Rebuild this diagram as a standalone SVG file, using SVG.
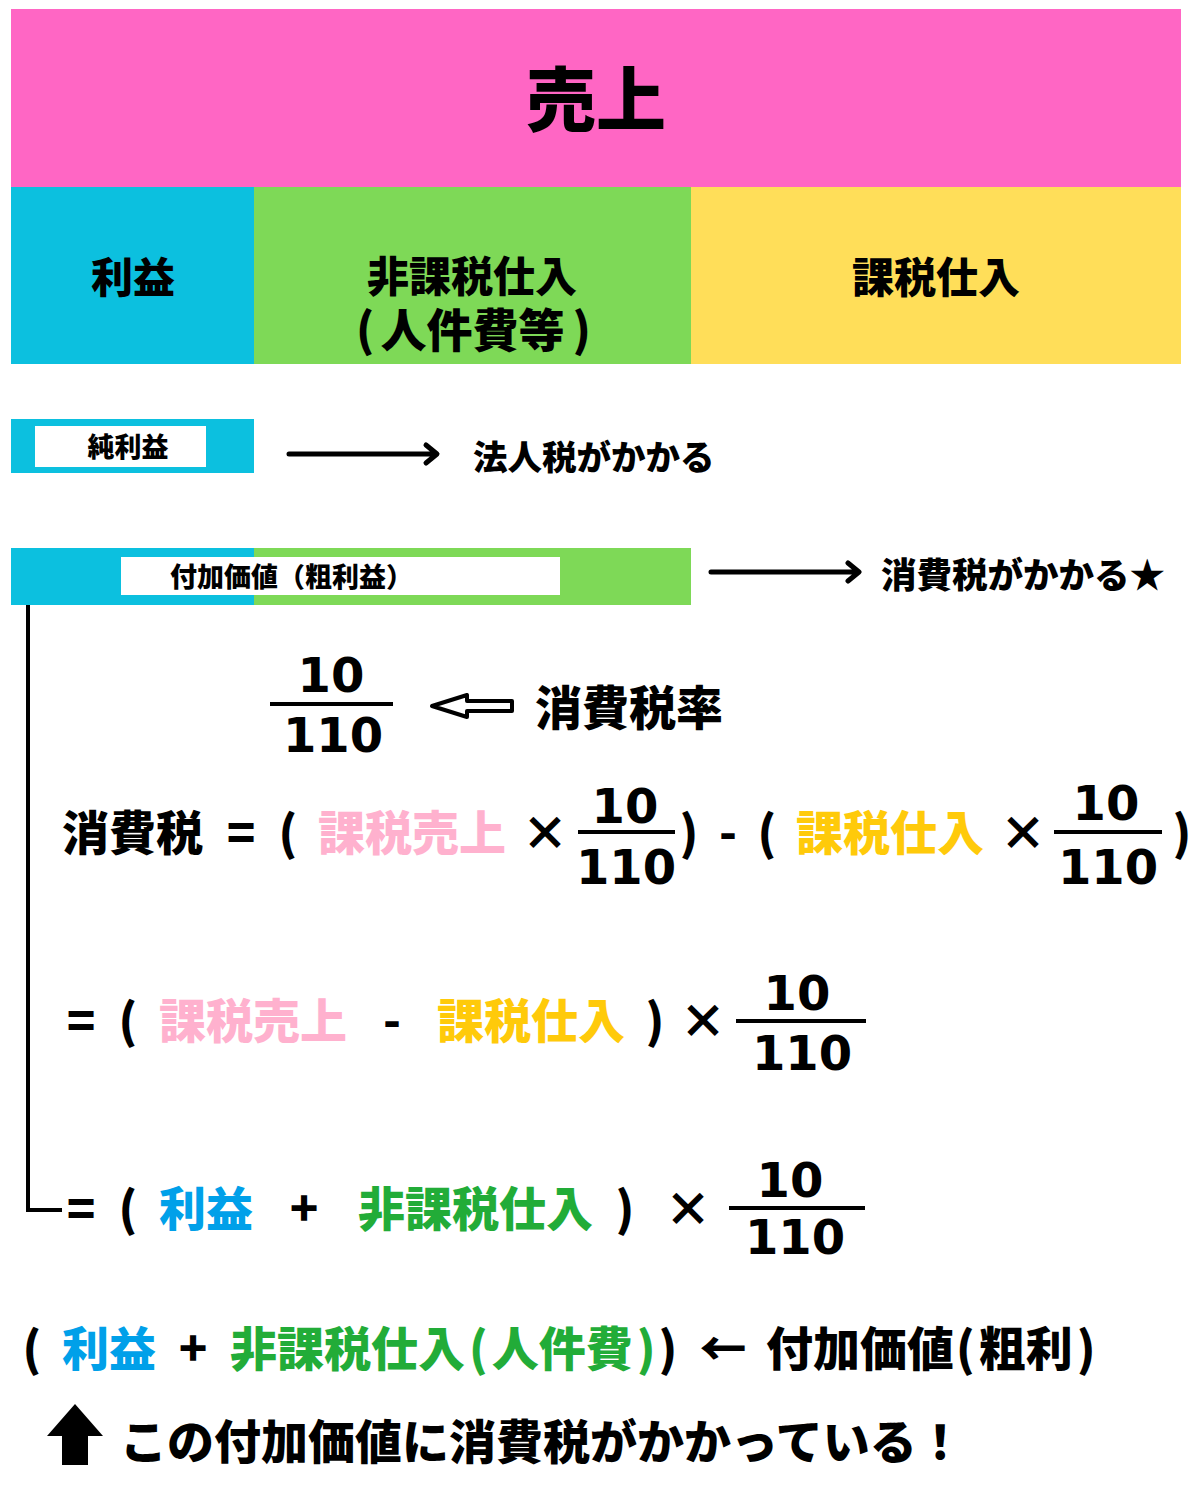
<svg xmlns="http://www.w3.org/2000/svg" width="1196" height="1510" viewBox="0 0 1196 1510">
<style>
text{font-family:"Noto Sans CJK JP","Noto Sans CJK SC",sans-serif;font-weight:900;fill:#000}
.num{font-family:"DejaVu Sans",sans-serif;font-weight:bold;font-size:48px;text-anchor:middle}
.f{font-size:47px}
.m{text-anchor:middle}
.pk{fill:#FFB1CE}
.gd{fill:#FFCA0A}
.bl{fill:#00A0E9}
.gr{fill:#22AC38}
.ln{stroke:#000;stroke-width:5;fill:none;stroke-linecap:round;stroke-linejoin:round}
</style>
<rect width="1196" height="1510" fill="#fff"/>
<g id="uriage">
<rect x="11" y="9" width="1170" height="178" fill="#FF66C4"/>
<text x="596" y="126" font-size="70" class="m">売上</text>
</g>
<g id="rieki">
<rect x="11" y="187" width="243" height="177" fill="#0CC0DF"/>
<text x="133" y="293" font-size="42" class="m">利益</text>
</g>
<g id="hikazei">
<rect x="254" y="187" width="437" height="177" fill="#7ED957"/>
<text x="472" y="292" font-size="42" class="m">非課税仕入</text>
<text x="356" y="347" font-size="46">(<tspan dx="6">人件費等</tspan><tspan dx="8">)</tspan></text>
</g>
<g id="kazei">
<rect x="691" y="187" width="490" height="177" fill="#FFDE59"/>
<text x="936" y="293" font-size="42" class="m">課税仕入</text>
</g>
<g id="junrieki">
<rect x="11" y="419" width="243" height="54" fill="#0CC0DF"/>
<rect x="35" y="426" width="171" height="41" fill="#fff"/>
<text x="128" y="457" font-size="27" class="m">純利益</text>
</g>
<g id="houjinzei">
<text x="473" y="470" font-size="34.5">法人税がかかる</text>
</g>
<g id="fukakachi">
<rect x="11" y="548" width="243" height="57" fill="#0CC0DF"/>
<rect x="254" y="548" width="437" height="57" fill="#7ED957"/>
<rect x="121" y="557" width="439" height="38" fill="#fff"/>
<text x="170" y="587" font-size="27">付加価値（粗利益）</text>
</g>
<g id="shouhizei">
<text x="881" y="588" font-size="35.5">消費税がかかる★</text>
</g>
<g id="connectors">
<path class="ln" d="M289,454 H436 M426,445 L437,454 L426,463"/>
<path class="ln" d="M711,572 H858 M848,563 L859,572 L848,581"/>
<path d="M28,605 V1210 H62" stroke="#000" stroke-width="4" fill="none"/>
<polygon points="432,706 467,695 467,701 512,701 512,711 467,711 467,717" fill="#fff" stroke="#000" stroke-width="4" stroke-linejoin="round"/>
<polygon points="75,1404 47,1436 62,1436 62,1465 88,1465 88,1436 103,1436" fill="#000"/>
</g>
<g id="rate">
<text x="331" y="692" class="num">10</text>
<line x1="270" y1="704" x2="393" y2="704" stroke="#000" stroke-width="4"/>
<text x="333" y="752" class="num">110</text>
<text x="535" y="725" class="f">消費税率</text>
</g>
<g id="formula1">
<text x="62" y="850" class="f">消費税</text>
<text x="241" y="850" class="f m">=</text>
<text x="288" y="850" class="f m">(</text>
<text x="318" y="850" class="f pk">課税売上</text>
<text x="545" y="850" class="f m">×</text>
<text x="625" y="823" class="num">10</text>
<line x1="578" y1="832" x2="675" y2="832" stroke="#000" stroke-width="4"/>
<text x="626" y="884" class="num">110</text>
<text x="689" y="850" class="f m">)</text>
<text x="728" y="850" class="f m">-</text>
<text x="767" y="850" class="f m">(</text>
<text x="796" y="850" class="f gd">課税仕入</text>
<text x="1023" y="850" class="f m">×</text>
<text x="1106" y="820" class="num">10</text>
<line x1="1054" y1="832" x2="1162" y2="832" stroke="#000" stroke-width="4"/>
<text x="1108" y="884" class="num">110</text>
<text x="1182" y="850" class="f m">)</text>
</g>
<g id="formula2">
<text x="81" y="1038" class="f m">=</text>
<text x="128" y="1038" class="f m">(</text>
<text x="159" y="1038" class="f pk">課税売上</text>
<text x="392" y="1038" class="f m">-</text>
<text x="437" y="1038" class="f gd">課税仕入</text>
<text x="655" y="1038" class="f m">)</text>
<text x="703" y="1038" class="f m">×</text>
<text x="797" y="1010" class="num">10</text>
<line x1="736" y1="1021" x2="866" y2="1021" stroke="#000" stroke-width="4"/>
<text x="802" y="1070" class="num">110</text>
</g>
<g id="formula3">
<text x="81" y="1226" class="f m">=</text>
<text x="128" y="1226" class="f m">(</text>
<text x="159" y="1226" class="f bl">利益</text>
<text x="304" y="1226" class="f m">+</text>
<text x="358" y="1226" class="f gr">非課税仕入</text>
<text x="625" y="1226" class="f m">)</text>
<text x="688" y="1226" class="f m">×</text>
<text x="790" y="1197" class="num">10</text>
<line x1="729" y1="1208" x2="865" y2="1208" stroke="#000" stroke-width="4"/>
<text x="795" y="1254" class="num">110</text>
</g>
<g id="summary">
<text x="32" y="1366" class="f m">(</text>
<text x="62" y="1366" class="f bl">利益</text>
<text x="193" y="1366" class="f m">+</text>
<text x="230" y="1366" class="f gr">非課税仕入<tspan dx="4">(</tspan><tspan dx="4">人件費</tspan><tspan dx="4">)</tspan></text>
<text x="668" y="1366" class="f m">)</text>
<text x="723" y="1366" class="f m" font-weight="400">←</text>
<text x="766" y="1366" class="f">付加価値<tspan dx="2">(</tspan><tspan dx="4">粗利</tspan><tspan dx="4">)</tspan></text>
</g>
<g id="note">
<text x="120" y="1459" class="f">この付加価値に消費税がかかっている！</text>
</g>
</svg>
